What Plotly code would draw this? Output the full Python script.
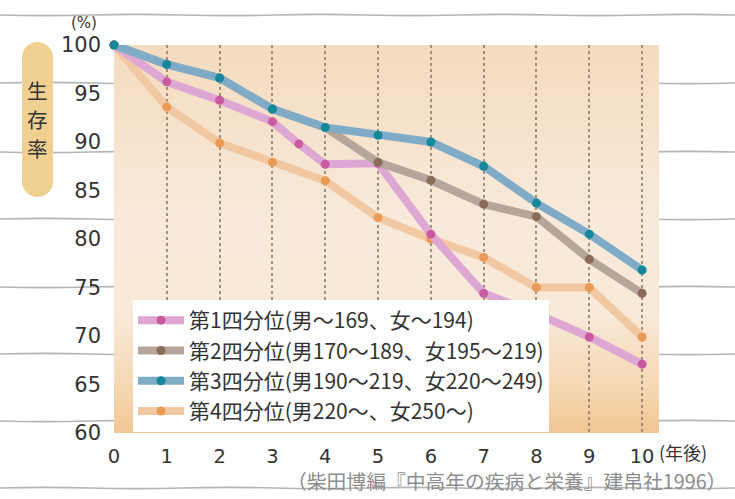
import base64
import plotly.graph_objects as go

# ---------------- data ----------------
years = [0, 1, 2, 3, 4, 5, 6, 7, 8, 9, 10]
q1_years = [0, 1, 2, 3, 3.5, 4, 5, 6, 7, 8, 9, 10]
q1_vals = [100, 96.2, 94.3, 92.1, 89.8, 87.7, 87.8, 80.5, 74.4, 72.3, 69.9, 67.1]
q2_vals = [100, 98.0, 96.6, 93.4, 91.5, 87.9, 86.05, 83.6, 82.3, 77.9, 74.4]
q3_vals = [100, 98.0, 96.6, 93.4, 91.5, 90.7, 90.0, 87.5, 83.7, 80.5, 76.8]
q4_vals = [100, 93.6, 89.9, 87.9, 86.0, 82.2, 80.0, 78.1, 75.0, 75.0, 69.9]
series_names = [
    "第1四分位(男～169、女～194)",
    "第2四分位(男170～189、女195～219)",
    "第3四分位(男190～219、女220～249)",
    "第4四分位(男220～、女250～)",
]
y_ticks = [60, 65, 70, 75, 80, 85, 90, 95, 100]
x_ticks = [0, 1, 2, 3, 4, 5, 6, 7, 8, 9, 10]
ylabel_chars = ["生", "存", "率"]

# ---------------- layout geometry (pixels) ----------------
W, H = 735, 499
L, R, T, B = 114, 76, 45, 66
PW, PH = W - L - R, H - T - B
X_MAX = 10.32


def px(x):
    return (x - L) / PW


def py(y):
    return (H - B - y) / PH


CJK = "Noto Sans CJK JP, Noto Sans, sans-serif"
NUM = "DejaVu Sans, Noto Sans CJK JP, sans-serif"

fig = go.Figure()

styles = {
    0: dict(line="#dda6d3", marker="#c95aa0"),
    1: dict(line="#b5a59a", marker="#8a6b59"),
    2: dict(line="#80abc7", marker="#14879a"),
    3: dict(line="#f2c8a2", marker="#e99a56"),
}
xs = [q1_years, years, years, years]
ys = [q1_vals, q2_vals, q3_vals, q4_vals]
draw_order = [3, 0, 1, 2]
for i in draw_order:
    fig.add_trace(go.Scatter(
        x=xs[i], y=ys[i], name=series_names[i], mode="lines+markers",
        line=dict(color=styles[i]["line"], width=8),
        marker=dict(color=styles[i]["marker"], size=9),
        cliponaxis=False, legendrank=i + 1, hoverinfo="skip",
    ))

# ---------------- gradient background ----------------
svg = (
    '<svg xmlns="http://www.w3.org/2000/svg" width="100" height="100" '
    'viewBox="0 0 100 100" preserveAspectRatio="none">'
    '<defs><linearGradient id="g" x1="0" y1="0" x2="0" y2="1">'
    '<stop offset="0" stop-color="#f3dcbf"/>'
    '<stop offset="0.45" stop-color="#f8eadb"/>'
    '<stop offset="0.7" stop-color="#f8e9d8"/>'
    '<stop offset="0.9" stop-color="#f4d5ae"/>'
    '<stop offset="1" stop-color="#f1c692"/>'
    '</linearGradient></defs>'
    '<rect x="0" y="0" width="100" height="100" fill="url(#g)"/></svg>'
)
src = "data:image/svg+xml;base64," + base64.b64encode(svg.encode()).decode()
fig.add_layout_image(dict(
    source=src, xref="x", yref="y", x=0, y=100, sizex=X_MAX, sizey=40,
    xanchor="left", yanchor="top", sizing="stretch", layer="below",
))

# ---------------- notebook wavy lines ----------------
shapes = []
line_levels = [15, 83, 152, 219, 287, 354, 421, 488]
for k, yl in enumerate(line_levels):
    seg = 92
    pts = [f"M{px(-2):.5f},{py(yl):.5f}"]
    x0 = -2
    j = 0
    while x0 < W + 2:
        x1 = x0 + seg
        amp = 1.3 if (j + k) % 2 == 0 else -1.3
        pts.append(f"Q{px(x0 + seg / 2):.5f},{py(yl + amp):.5f} {px(x1):.5f},{py(yl):.5f}")
        x0 = x1
        j += 1
    shapes.append(dict(type="path", xref="paper", yref="paper", path=" ".join(pts),
                       line=dict(color="#b4b4b4", width=1.6), layer="below"))

# rounded badge behind the y label
bx0, bx1, by0, by1 = 22, 53, 42, 197
r = (bx1 - bx0) / 2
cx = (bx0 + bx1) / 2
badge = (
    f"M{px(bx0)},{py(by0 + r)} "
    f"C{px(bx0)},{py(by0 + r * 0.45)} {px(cx - r * 0.55)},{py(by0)} {px(cx)},{py(by0)} "
    f"C{px(cx + r * 0.55)},{py(by0)} {px(bx1)},{py(by0 + r * 0.45)} {px(bx1)},{py(by0 + r)} "
    f"L{px(bx1)},{py(by1 - r)} "
    f"C{px(bx1)},{py(by1 - r * 0.45)} {px(cx + r * 0.55)},{py(by1)} {px(cx)},{py(by1)} "
    f"C{px(cx - r * 0.55)},{py(by1)} {px(bx0)},{py(by1 - r * 0.45)} {px(bx0)},{py(by1 - r)} Z"
)
shapes.append(dict(type="path", xref="paper", yref="paper", path=badge,
                   fillcolor="#f0d090", line=dict(width=0), layer="below"))

# dotted guide at x = 0 (edge gridline)
shapes.append(dict(type="line", xref="x", yref="y", x0=0, x1=0, y0=60, y1=100,
                   line=dict(color="rgba(150,125,105,0.85)", width=1.6, dash="dot"),
                   layer="below"))

# ---------------- annotations ----------------
ann = []
for ch, yc in zip(ylabel_chars, [90, 119, 148]):
    ann.append(dict(text=ch, x=px(37.5), y=py(yc), xref="paper", yref="paper",
                    showarrow=False, xanchor="center", yanchor="middle",
                    borderpad=0,
                    font=dict(family=CJK, size=20.5, color="#333333")))
ann.append(dict(text="(%)", x=px(84), y=py(23), xref="paper", yref="paper",
                showarrow=False, xanchor="center", yanchor="middle",
                font=dict(family=NUM, size=15, color="#333333")))
ann.append(dict(text="(年後)", x=px(657), y=py(452), xref="paper", yref="paper",
                showarrow=False, xanchor="left", yanchor="middle",
                font=dict(family=CJK, size=18, color="#333333")))
ann.append(dict(text="（柴田博編『中高年の疾病と栄養』建帛社1996）", x=px(507), y=py(480),
                xref="paper", yref="paper", showarrow=False,
                xanchor="center", yanchor="middle",
                font=dict(family=CJK, size=19.8, color="#8c8c8c")))

fig.update_layout(
    width=W, height=H,
    margin=dict(l=L, r=R, t=T, b=B, pad=0),
    paper_bgcolor="white", plot_bgcolor="rgba(0,0,0,0)",
    shapes=shapes, annotations=ann,
    showlegend=True,
    legend=dict(
        x=px(133), y=py(300), xanchor="left", yanchor="top",
        bgcolor="white", borderwidth=0, itemwidth=46,
        font=dict(family=CJK, size=21, color="#333333"),
        tracegroupgap=0, traceorder="normal",
    ),
    xaxis=dict(
        range=[0, X_MAX], tickvals=x_ticks, ticktext=[str(v) for v in x_ticks],
        showgrid=True, gridcolor="rgba(150,125,105,0.85)", griddash="dot", gridwidth=1.6,
        zeroline=False, showline=False, ticks="", ticklabelstandoff=9,
        tickfont=dict(family=NUM, size=19.5, color="#333333"), fixedrange=True,
    ),
    yaxis=dict(
        range=[60, 100], tickvals=y_ticks, ticktext=[str(v) for v in y_ticks],
        showgrid=False, zeroline=False, showline=False, ticks="", ticklabelstandoff=12,
        tickfont=dict(family=NUM, size=21, color="#333333"), fixedrange=True,
    ),
)

fig.write_html("out.html", config={"displayModeBar": False},
               post_script="document.body.style.margin='0';")
